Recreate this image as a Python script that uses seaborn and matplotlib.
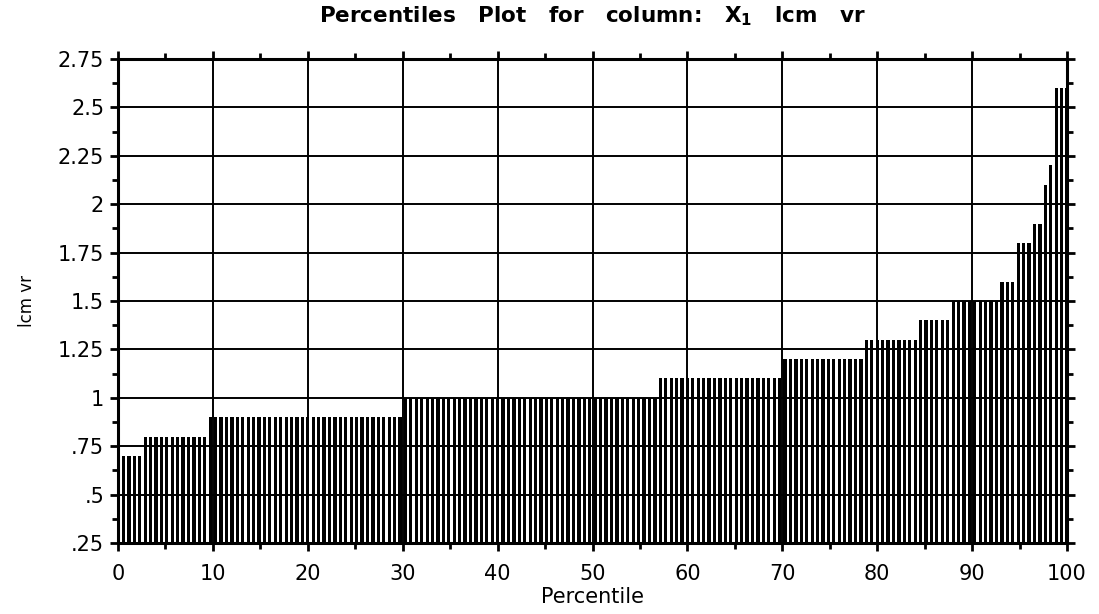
import numpy as np
import pandas as pd
import matplotlib
matplotlib.use("Agg")
import matplotlib.pyplot as plt
import seaborn as sns
from matplotlib.ticker import MultipleLocator, FuncFormatter

# sorted sample values (levels) and how many observations sit at each level
levels = [0.5, 0.7, 0.8, 0.9, 1.0, 1.1, 1.2, 1.3, 1.4, 1.5, 1.6, 1.8, 1.9, 2.1, 2.2, 2.6]
counts = [1, 4, 12, 36, 47, 23, 15, 10, 6, 9, 3, 3, 2, 1, 1, 3]

x_ticks = [0, 10, 20, 30, 40, 50, 60, 70, 80, 90, 100]
y_ticks = [0.25, 0.5, 0.75, 1.0, 1.25, 1.5, 1.75, 2.0, 2.25, 2.5, 2.75]

values = np.repeat(levels, counts)
n = len(values)
percentile = 100.0 * np.arange(n) / (n - 1)
df = pd.DataFrame({"Percentile": percentile, "lcm vr": values})

sns.set_theme(style="white")
plt.rcParams["font.family"] = ["DejaVu Sans"]
plt.rcParams["text.color"] = "black"
plt.rcParams["xtick.color"] = "black"
plt.rcParams["ytick.color"] = "black"
plt.rcParams["axes.labelcolor"] = "black"

fig = plt.figure(figsize=(10.99, 6.14), dpi=100)
ax = fig.add_axes([0.1074, 0.1156, 0.8635, 0.7883])

sns.barplot(data=df, x="Percentile", y="lcm vr", native_scale=True,
            color="black", width=0.6, errorbar=None, ax=ax,
            saturation=1, linewidth=0, edgecolor="black")

ax.set_xlim(0, 100)
ax.set_ylim(0.25, 2.75)
ax.set_xticks(x_ticks)
ax.set_yticks(y_ticks)
ax.xaxis.set_minor_locator(MultipleLocator(5))
ax.yaxis.set_minor_locator(MultipleLocator(0.125))
ax.yaxis.set_major_formatter(FuncFormatter(lambda v, p: f"{v:g}".lstrip("0")))
ax.xaxis.set_major_formatter(FuncFormatter(lambda v, p: f"{v:g}"))

ax.grid(True, which="major", color="black", linewidth=1.4, linestyle="-")
ax.set_axisbelow(False)

for s in ax.spines.values():
    s.set_visible(True)
    s.set_color("black")
    s.set_linewidth(2.2)

ax.tick_params(which="both", direction="out", color="black",
               top=True, right=True, bottom=True, left=True,
               labeltop=False, labelright=False)
ax.tick_params(which="major", length=6, width=2, labelsize=15, pad=4)
ax.tick_params(axis="x", which="major", pad=9)
ax.tick_params(which="minor", length=4, width=2)

ax.set_xlabel("Percentile", fontsize=15, labelpad=2)
ax.set_ylabel("lcm vr", fontsize=12, labelpad=16)
ax.set_title("Percentiles   Plot   for   column:   $\\mathbf{X_1}$   lcm   vr",
             fontsize=15.5, fontweight="bold", pad=26)

fig.savefig("out.png", dpi=100, facecolor="white")
